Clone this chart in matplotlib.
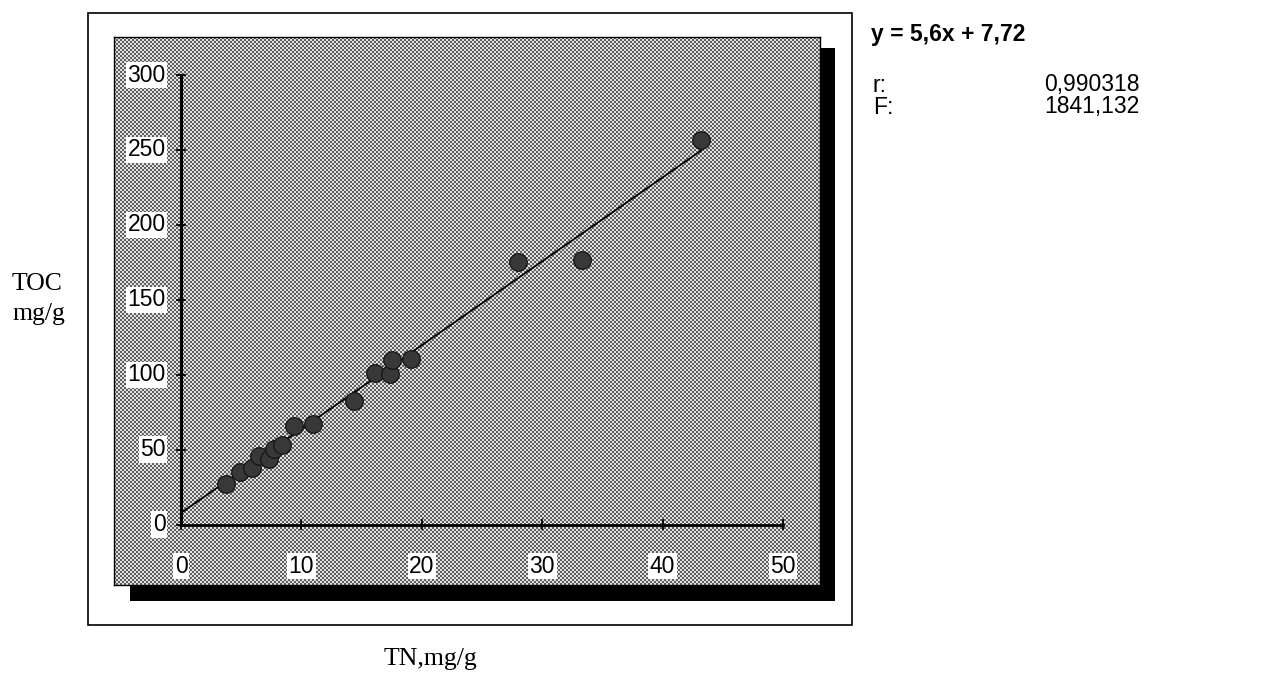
import matplotlib
matplotlib.use("Agg")
import matplotlib.pyplot as plt
from matplotlib.patches import Rectangle
import numpy as np

# TN (mg/g) and TOC (mg/g)
tn = [3.7, 4.9, 5.9, 6.5, 7.3, 7.7, 8.4, 9.4, 11.0, 14.4, 16.1, 17.4, 17.5, 19.1, 28.0, 33.3, 43.2]
toc = [27, 35, 37.5, 45.7, 43.5, 50.2, 53.1, 66, 67, 82.4, 101.3, 100.3, 109.8, 110.3, 175, 176.6, 257]
slope = 5.6
intercept = 7.72
xticks = [0, 10, 20, 30, 40, 50]
yticks = [0, 50, 100, 150, 200, 250, 300]

W, H = 1286, 683
fig = plt.figure(figsize=(W / 100, H / 100), dpi=100)

def fx(px):
    return px / W

def fy(py):
    return 1 - py / H

# outer frame
fig.patches.append(Rectangle((fx(88), fy(625)), fx(852) - fx(88), fy(13) - fy(625),
                             transform=fig.transFigure, fill=False, edgecolor='black', lw=1.2))
# drop shadow
fig.patches.append(Rectangle((fx(130), fy(601)), fx(835) - fx(130), fy(48) - fy(601),
                             transform=fig.transFigure, facecolor='black', edgecolor='none', zorder=-1))

left, right, top, bottom = 114, 820, 37, 585
ax = fig.add_axes([fx(left), fy(bottom), fx(right) - fx(left), fy(top) - fy(bottom)])
for s in ax.spines.values():
    s.set_edgecolor('black')
    s.set_linewidth(1.0)

# pixel -> data mapping: x 0 at 181px, 12.04 px/unit; y 0 at 524.5px, 1.498 px/unit
x0, x1 = (left - 181.0) / 12.04, (right - 181.0) / 12.04
y0, y1 = (524.5 - bottom) / 1.498, (524.5 - top) / 1.498

# halftone-like background texture (2 px cells)
ny, nx = (bottom - top) // 2, (right - left) // 2
ii, jj = np.indices((ny, nx))
checker = ((ii + jj) % 2).astype(float)
ax.imshow(checker, cmap='gray', vmin=-0.75, vmax=1.25, interpolation='nearest',
          extent=[x0, x1, y0, y1], aspect='auto', zorder=0)
ax.set_xlim(x0, x1)
ax.set_ylim(y0, y1)

# axis lines through the origin
ax.plot([0, 50], [0, 0], color='black', lw=2.0, zorder=2)
ax.plot([0, 0], [0, 300], color='black', lw=2.2, zorder=2, snap=True)
ax.tick_params(left=False, bottom=False, labelleft=False, labelbottom=False)

tfont = dict(family='Liberation Sans', size=16.5)
box = dict(facecolor='white', edgecolor='none', pad=1.2)
for t in xticks:
    ax.plot([t, t], [-3, 3], color='black', lw=1.3, zorder=2)
    ax.annotate(str(t), (t, 0), xytext=(0, -30), textcoords='offset points',
                ha='center', va='center', bbox=box, **tfont)
for t in yticks:
    ax.plot([-0.3, 0.3], [t, t], color='black', lw=1.3, zorder=2)
    ax.annotate(str(t), (0, t), xytext=(-11, 0), textcoords='offset points',
                ha='right', va='center', bbox=box, **tfont)

# regression line and points
xl = np.array([0, max(tn)])
ax.plot(xl, slope * xl + intercept, color='black', lw=1.3, zorder=3)
ax.scatter(tn, toc, s=160, color='#383838', edgecolors='#141414', linewidths=0.9, zorder=4)

# axis titles
serif = dict(family='Liberation Serif', size=18.5)
fig.text(fx(12), fy(284), 'TOC', ha='left', va='center', **serif)
fig.text(fx(12), fy(314), 'mg/g', ha='left', va='center', **serif)
fig.text(fx(430), fy(659), 'TN,mg/g', ha='center', va='center', **serif)

# regression statistics
sfont = dict(family='Liberation Sans', size=16.5)
fig.text(fx(871), fy(34), 'y = 5,6x + 7,72', ha='left', va='center', weight='bold', **sfont)
fig.text(fx(873), fy(85), 'r:', ha='left', va='center', **sfont)
fig.text(fx(1140), fy(85), '0,990318', ha='right', va='center', **sfont)
fig.text(fx(873), fy(107), 'F:', ha='left', va='center', **sfont)
fig.text(fx(1140), fy(107), '1841,132', ha='right', va='center', **sfont)

fig.savefig('out.png', dpi=100)
